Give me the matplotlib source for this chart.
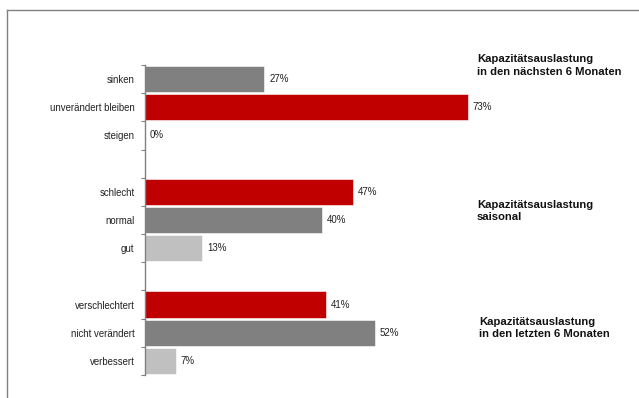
import numpy as np
import matplotlib.pyplot as plt
from matplotlib.lines import Line2D

plt.rcParams['font.family'] = ['Liberation Sans', 'DejaVu Sans']

RED = '#C00000'
DARK = '#808080'
LIGHT = '#C0C0C0'

# three question blocks, top to bottom
titles = ['Kapazitätsauslastung\nin den nächsten 6 Monaten',
          'Kapazitätsauslastung\nsaisonal',
          'Kapazitätsauslastung\nin den letzten 6 Monaten']
labels = [['sinken', 'unverändert bleiben', 'steigen'],
          ['schlecht', 'normal', 'gut'],
          ['verschlechtert', 'nicht verändert', 'verbessert']]
values = [[27, 73, 0],
          [47, 40, 13],
          [41, 52, 7]]
colors = [[DARK, RED, LIGHT],
          [RED, DARK, LIGHT],
          [RED, DARK, LIGHT]]

fig = plt.figure(figsize=(6.39, 3.98), dpi=100)
ax = fig.add_axes([145/639, 1 - 375/398, 442/639, 310/398])

ypos, ylabels = [], []
pos = 0
for g in range(3):
    for i in range(3):
        y = pos
        ax.barh(y, values[g][i], height=0.93, color=colors[g][i],
                edgecolor='white', linewidth=0.4)
        ax.text(values[g][i] + 1.1, y, f'{values[g][i]}%', va='center',
                ha='left', fontsize=7, color='#222222')
        ypos.append(y)
        ylabels.append(labels[g][i])
        pos += 1
    pos += 1  # empty row between blocks

ax.set_ylim(10.5, -0.5)
ax.set_xlim(0, 100)
ax.set_yticks(ypos)
ax.set_yticklabels(ylabels, fontsize=6.9, color='#222222')
ax.tick_params(axis='y', length=0, pad=7.5)
ax.set_yticks(np.arange(-0.5, 11, 1), minor=True)
ax.tick_params(axis='y', which='minor', length=3, color=DARK, width=0.8)
ax.set_xticks([])
for s in ['top', 'right', 'bottom']:
    ax.spines[s].set_visible(False)
ax.spines['left'].set_color(DARK)
ax.spines['left'].set_linewidth(1.0)

# block headings on the right
title_pos = [(477, 65.5), (477, 211), (479, 328)]
for t, (x, y) in zip(titles, title_pos):
    fig.text(x/639, 1 - y/398, t, fontsize=8.1, fontweight='bold',
             va='center', ha='left', linespacing=1.3, color='#111111')

# outer frame, top and left only
fig.add_artist(Line2D([7/639, 1], [1 - 10/398, 1 - 10/398], color=DARK, lw=1))
fig.add_artist(Line2D([7/639, 7/639], [0, 1 - 10/398], color=DARK, lw=1))

fig.savefig('out.png', dpi=100)
